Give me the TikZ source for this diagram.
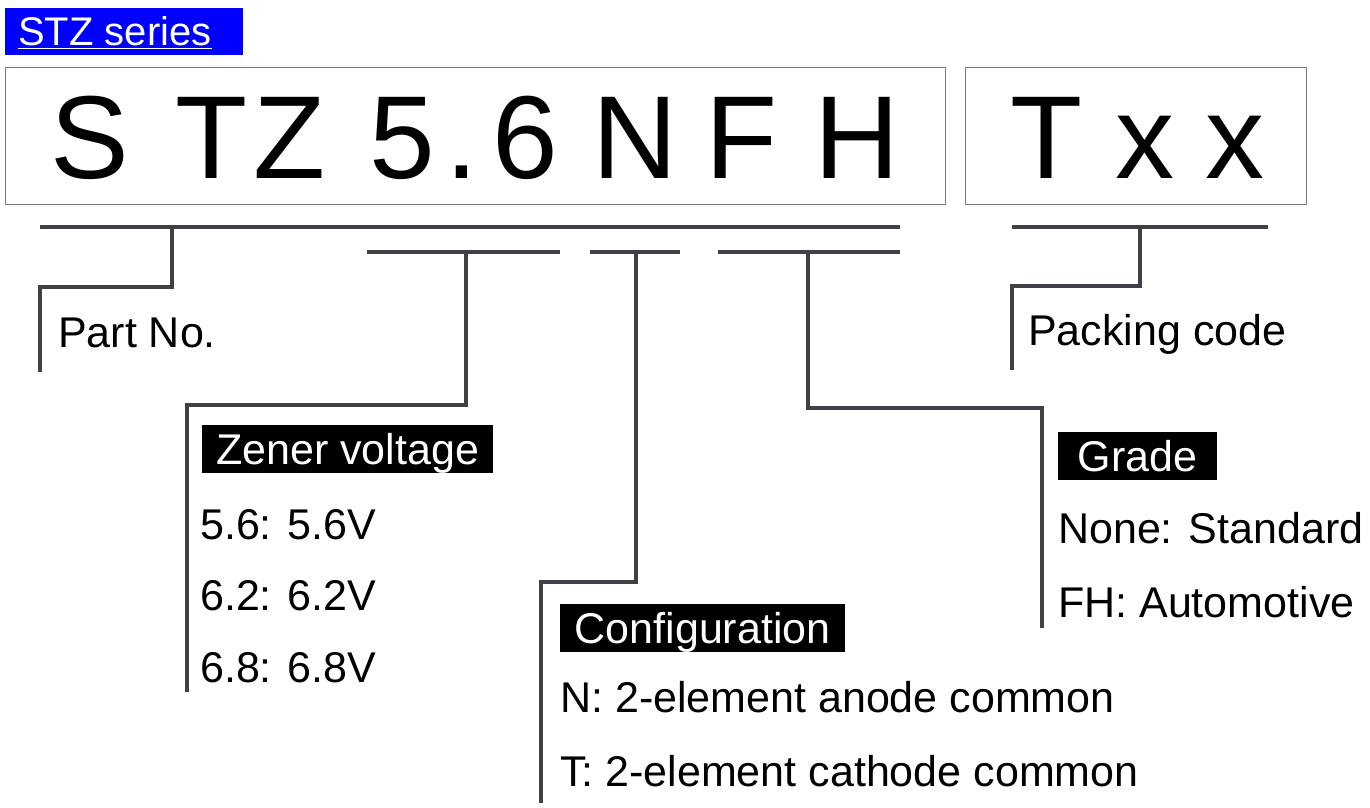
\documentclass[tikz,border=0pt]{standalone}
\usepackage{fontspec}
\setmainfont{Liberation Sans}
\definecolor{ln}{RGB}{64,64,70}
\definecolor{bx}{RGB}{120,120,120}
\definecolor{blu}{RGB}{0,0,255}
\begin{document}
\begin{tikzpicture}[x=1pt,y=-1pt,
 lbl/.style={anchor=west,font=\fontsize{43}{46}\selectfont,inner sep=0pt},
 blk/.style={anchor=west,fill=black,text=white,font=\fontsize{43}{46}\selectfont,inner xsep=12pt,inner ysep=0pt,minimum height=48pt,align=left,text depth=0pt},
 big/.style={font=\fontsize{118}{120}\selectfont,inner sep=0pt},
 ld/.style={draw=ln,line width=3.5pt},
 box/.style={draw=bx,line width=1.2pt}]
\useasboundingbox (0,0) rectangle (1370,808);
\fill[blu] (5,8) rectangle (243,55);
\node[anchor=base west,text=white,font=\fontsize{40}{42}\selectfont,inner sep=0pt] (ser) at (18,46) {\underline{STZ series}};
\node[box,minimum width=940pt,minimum height=137pt,anchor=north west,inner sep=0pt] (b1) at (5,67) {};
\node[box,minimum width=341pt,minimum height=137pt,anchor=north west,inner sep=0pt] (b2) at (965,67) {};
\foreach \c/\x [count=\i] in {S/90,T/212,Z/290,5/402,./462,6/525,N/635,F/742,H/857,T/1047,x/1145,x/1235}
  \node[big,anchor=base] (L\i) at (\x,178) {\c};
\coordinate (h1a) at (40,227); \coordinate (h1b) at (900,227);
\draw[ld] (h1a)--(h1b);
\draw[ld] (367,252)--(560,252); \draw[ld] (590,252)--(680,252); \draw[ld] (718,252)--(900,252);
\draw[ld] (1012,227)--(1268,227);
\draw[ld] (172,227)--(172,287)--(40,287)--(40,372);
\draw[ld] (466,252)--(466,405)--(187,405)--(187,692);
\draw[ld] (636,252)--(636,582)--(541,582)--(541,803);
\draw[ld] (808,252)--(808,408)--(1042,408)--(1042,628);
\draw[ld] (1140,227)--(1140,286)--(1012,286)--(1012,370);
\node[lbl,anchor=base west] (pn) at (58,347) {Part No.};
\node[lbl,anchor=base west] (pc) at (1028,345) {Packing code};
\node[blk,minimum width=291pt] (zv) at (202,449) {Zener voltage\hfill};
\node[lbl,anchor=base west] (z1) at (200,539) {5.6: 5.6V};
\node[lbl,anchor=base west] (z2) at (200,610) {6.2: 6.2V};
\node[lbl,anchor=base west] (z3) at (200,682) {6.8: 6.8V};
\node[blk,minimum width=285pt] (cf) at (560,628) {Configuration};
\node[lbl,anchor=base west] (c1) at (560,712) {N: 2-element anode common};
\node[lbl,anchor=base west] (c2) at (560,786) {T: 2-element cathode common};
\node[blk,minimum width=159pt] (gr) at (1058,456) {Grade};
\node[lbl,anchor=base west] (g1) at (1058,543) {None: Standard};
\node[lbl,anchor=base west] (g2) at (1058,617) {FH: Automotive};
\end{tikzpicture}
\end{document}
